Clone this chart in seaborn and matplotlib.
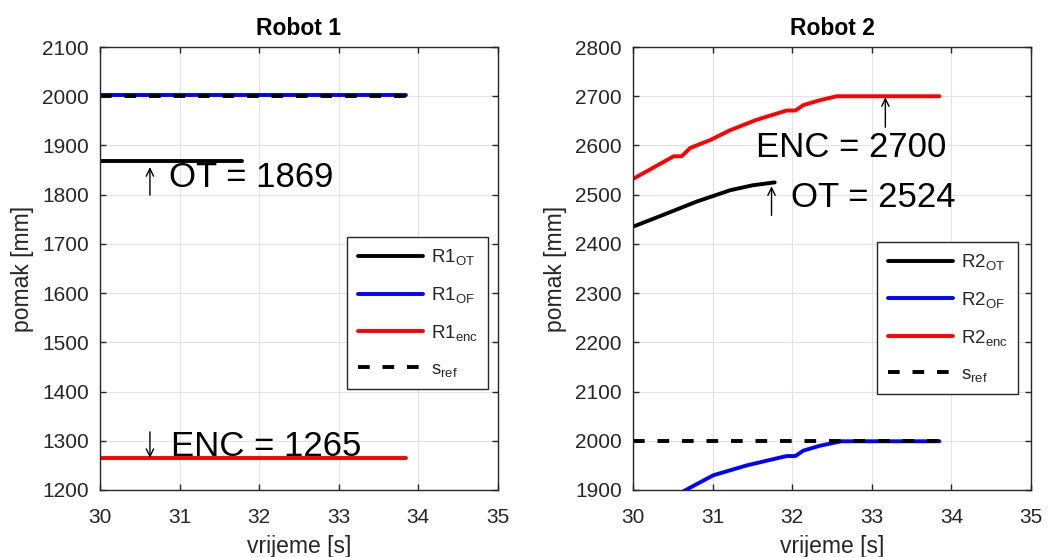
import numpy as np
import pandas as pd
import seaborn as sns
import matplotlib.pyplot as plt

# -------- data --------
t_end = 33.85

# Robot 1 (constant signals)
r1_ot_x = [30.0, 31.78]
r1_ot_y = [1869, 1869]
r1_of_x = [30.0, t_end]
r1_of_y = [2003, 2003]
r1_enc_x = [30.0, t_end]
r1_enc_y = [1265, 1265]
ref_x = [30.0, t_end]
ref_y = [2000, 2000]

# Robot 2
r2_ot_x = [30.0, 30.38, 30.8, 31.22, 31.5, 31.78]
r2_ot_y = [2435, 2459, 2486, 2509, 2519, 2525]
r2_of_x = [30.63, 30.72, 31.01, 31.43, 31.93, 32.04, 32.14, 32.35, 32.62, t_end]
r2_of_y = [1897, 1905, 1930, 1950, 1969, 1969, 1980, 1990, 1999, 1999]
r2_enc_x = [30.0, 30.2, 30.4, 30.51, 30.61, 30.72, 30.97, 31.22, 31.55, 31.93,
            32.04, 32.14, 32.35, 32.56, t_end]
r2_enc_y = [2532, 2550, 2568, 2578, 2578, 2595, 2611, 2631, 2652, 2671,
            2671, 2682, 2692, 2700, 2700]

# -------- style --------
sns.set_theme(style="whitegrid")
plt.rcParams["font.family"] = ["Liberation Sans", "DejaVu Sans"]
plt.rcParams["mathtext.fontset"] = "custom"
plt.rcParams["mathtext.rm"] = "Liberation Sans"
plt.rcParams["mathtext.it"] = "Liberation Sans:italic"
plt.rcParams["axes.unicode_minus"] = False

dark = "#262626"
lw = 2.8
big = 25


def line(ax, x, y, color, label, dashed=False):
    d = pd.DataFrame({"t": x, "s": y})
    sns.lineplot(data=d, x="t", y="s", ax=ax, color=color, linewidth=lw,
                 label=label, sort=False, estimator=None,
                 linestyle="--" if dashed else "-")
    if dashed:
        ax.lines[-1].set_dashes((3.0, 3.3))


def style_axes(ax, title, ylim):
    ax.set_xlim(30, 35)
    ax.set_ylim(*ylim)
    ax.set_xticks(range(30, 36))
    ax.set_yticks(np.arange(ylim[0], ylim[1] + 1, 100))
    ax.grid(True, color="#e3e3e3", linewidth=0.8)
    ax.set_facecolor("white")
    for sp in ax.spines.values():
        sp.set_color(dark)
        sp.set_linewidth(1.0)
    ax.tick_params(direction="in", length=4, width=1.0, colors=dark,
                   labelsize=15, top=True, right=True, left=True, bottom=True)
    ax.tick_params(axis="y", pad=8)
    ax.tick_params(axis="x", pad=13)
    ax.set_title(title, fontsize=16.5, fontweight="bold", color="black", pad=9)
    ax.set_xlabel("vrijeme [s]", fontsize=16.5, color=dark, labelpad=6)
    ax.set_ylabel("pomak [mm]", fontsize=16.5, color=dark, labelpad=6)


def legend(ax, anchor):
    leg = ax.legend(loc="upper right", bbox_to_anchor=anchor, fontsize=13.5,
                    handlelength=3.5, labelspacing=0.95, borderpad=0.55,
                    handletextpad=0.4, borderaxespad=0, fancybox=False,
                    framealpha=1, edgecolor=dark)
    leg.get_frame().set_linewidth(1.0)
    for t in leg.get_texts():
        t.set_color(dark)


def arrow(ax, x, y_tail, y_tip):
    ax.annotate("", xy=(x, y_tip), xytext=(x, y_tail),
                arrowprops=dict(arrowstyle="->,head_length=0.45,head_width=0.22",
                                color="black", lw=1.0, shrinkA=0, shrinkB=0))


fig = plt.figure(figsize=(10.5, 5.57), dpi=100)
ax1 = fig.add_axes([0.0952, 0.1203, 0.379, 0.7953])
ax2 = fig.add_axes([0.6029, 0.1203, 0.379, 0.7953])

# Robot 1
line(ax1, r1_ot_x, r1_ot_y, "black", r"R1$_{\mathrm{OT}}$")
line(ax1, r1_of_x, r1_of_y, "blue", r"R1$_{\mathrm{OF}}$")
line(ax1, r1_enc_x, r1_enc_y, "red", r"R1$_{\mathrm{enc}}$")
line(ax1, ref_x, ref_y, "black", r"s$_{\mathrm{ref}}$", dashed=True)
style_axes(ax1, "Robot 1", (1200, 2100))
legend(ax1, (0.975, 0.571))

arrow(ax1, 30.628, 1799, 1856)
ax1.text(30.87, 1815, "OT = 1869", fontsize=big, color="black",
         ha="left", va="baseline")
arrow(ax1, 30.628, 1318, 1265)
ax1.text(30.89, 1269, "ENC = 1265", fontsize=big, color="black",
         ha="left", va="baseline")

# Robot 2
line(ax2, r2_ot_x, r2_ot_y, "black", r"R2$_{\mathrm{OT}}$")
line(ax2, r2_of_x, r2_of_y, "blue", r"R2$_{\mathrm{OF}}$")
line(ax2, r2_enc_x, r2_enc_y, "red", r"R2$_{\mathrm{enc}}$")
line(ax2, ref_x, ref_y, "black", r"s$_{\mathrm{ref}}$", dashed=True)
style_axes(ax2, "Robot 2", (1900, 2800))
legend(ax2, (0.967, 0.56))

arrow(ax2, 31.74, 2458, 2517)
ax2.text(31.98, 2475, "OT = 2524", fontsize=big, color="black",
         ha="left", va="baseline")
arrow(ax2, 33.17, 2637, 2698)
ax2.text(31.55, 2576, "ENC = 2700", fontsize=big, color="black",
         ha="left", va="baseline")

fig.savefig("out.png", dpi=100)
